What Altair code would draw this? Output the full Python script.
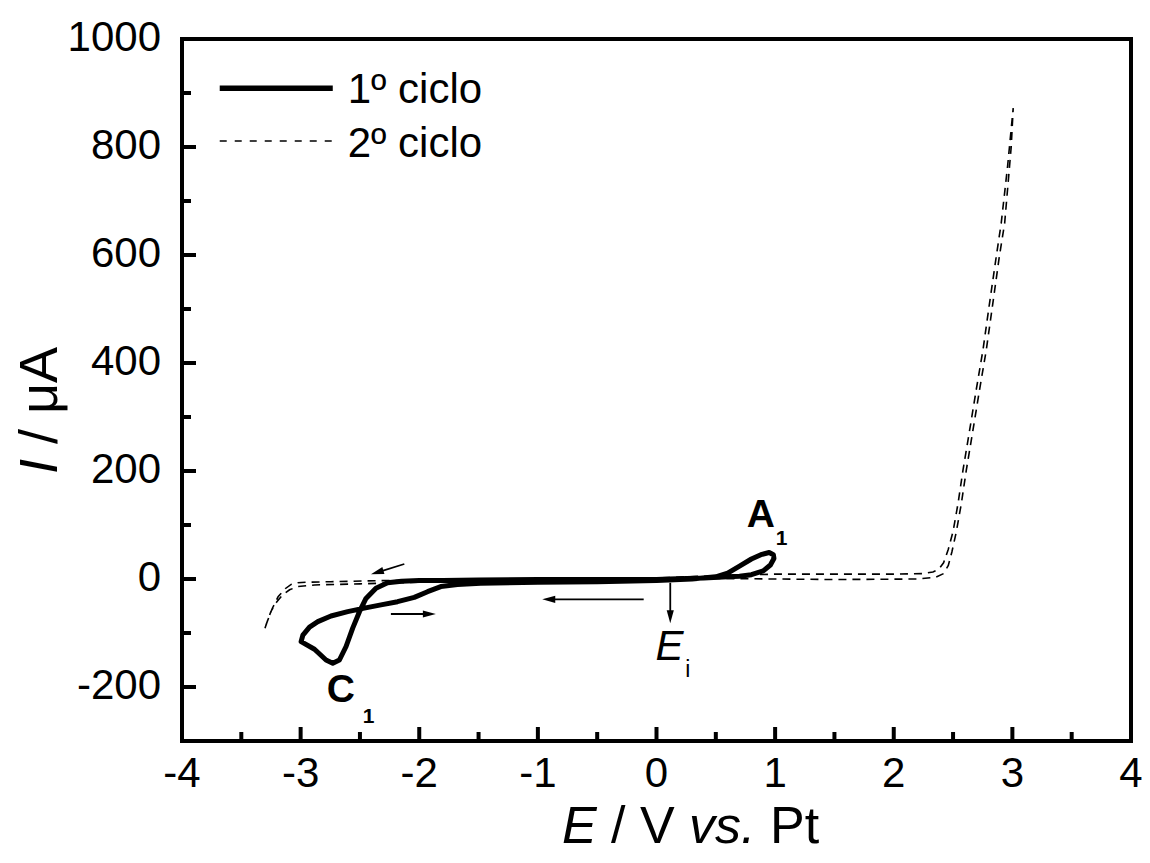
import altair as alt
import pandas as pd

FONT = "Liberation Sans"

# ---------------- data ----------------
cycle1_E = [0.11, 0.0, -0.5, -1.0, -1.5, -1.8, -2.0, -2.15, -2.267, -2.365, -2.449, -2.505,
            -2.561, -2.617, -2.673, -2.729, -2.786, -2.883, -2.996, -2.981, -2.925, -2.855,
            -2.744, -2.603, -2.463, -2.323, -2.183, -2.042, -1.93, -1.818, -1.678, -1.482,
            -1.0, -0.5, 0.0, 0.3, 0.5, 0.6, 0.7, 0.8, 0.88, 0.95, 0.985, 0.99, 0.96, 0.9,
            0.8, 0.7, 0.6, 0.4, 0.11]
cycle1_I = [0, -1, -1, -1, -2, -3, -3, -4, -7, -17, -36, -61,
            -91, -125, -150, -156, -150, -130, -116, -104, -89, -79,
            -68.5, -60.5, -54, -48, -42, -34, -23.5, -14, -10, -8,
            -6, -5, -3, 0, 4, 11, 24, 37, 45, 49, 45, 38, 26, 15,
            8, 5, 4, 2, 0]

cycle2_E = [0.11, -0.5, -1.0, -1.5, -2.0, -2.323, -2.744, -2.95, -3.024, -3.08, -3.13, -3.19,
            -3.24, -3.28, -3.304, -3.29, -3.25, -3.2, -3.15, -3.093, -3.024, -2.883, -2.5,
            -2.2, -1.8, -1.4, -1.0, -0.5, 0.0, 0.5, 1.0, 1.5, 2.0, 2.25, 2.33, 2.38, 2.42,
            2.46, 2.5, 2.542, 2.584, 2.64, 2.695, 2.752, 2.807, 2.864, 2.906, 2.96, 3.007,
            2.99, 2.935, 2.89, 2.835, 2.78, 2.723, 2.668, 2.612, 2.57, 2.528, 2.49, 2.46,
            2.42, 2.35, 2.2, 1.5, 1.0, 0.5, 0.11]
cycle2_I = [1, -1, -2, -3, -3, -3, -5, -6, -7, -10, -18, -33,
            -55, -78, -94, -84, -60, -42, -29, -20, -14, -11, -9,
            -7, -5, -3, -2, 0, 2, 6, 9, 9, 9, 10, 13, 18, 30,
            55, 88, 140, 202, 276, 350, 424, 510, 597, 659, 765, 872,
            800, 659, 597, 510, 424, 350, 276, 202, 140, 88, 50, 25,
            10, 3, 0, -1, 0, 1, 0]

series_names = ["1º ciclo", "2º ciclo"]

x_domain = [-4, 4]
y_domain = [-300, 1000]
x_major = [-4, -3, -2, -1, 0, 1, 2, 3, 4]
x_minor = [-3.5, -2.5, -1.5, -0.5, 0.5, 1.5, 2.5, 3.5]
y_major = [-200, 0, 200, 400, 600, 800, 1000]
y_minor = [-100, 100, 300, 500, 700, 900]
x_tick_labels = ["-4", "-3", "-2", "-1", "0", "1", "2", "3", "4"]
y_tick_labels = ["-200", "0", "200", "400", "600", "800", "1000"]

# legend (data coordinates)
legend_line_E = [-3.682, -2.729]
legend_line_I = [909, 811]
legend_text_E = [-2.603, -2.603]
legend_text_I = [881, 782]

# peak labels
peak_text = ["A", "C"]
peak_E = [0.879, -2.662]
peak_I = [96.9, -227]
peak_sub = ["1", "1"]
peak_sub_E = [1.055, -2.426]
peak_sub_I = [63, -267]
ei_text = ["E"]
ei_E = [0.109]
ei_I = [-150]
ei_sub = ["i"]
ei_sub_E = [0.265]
ei_sub_I = [-181]

# arrows: tail -> tip
arrow_E0 = [0.116, -0.108, -2.239, -2.126]
arrow_I0 = [-7, -37.6, -64.8, 27.8]
arrow_E1 = [0.116, -0.963, -1.860, -2.407]
arrow_I1 = [-82, -37.6, -64.8, 8.7]
arrow_angle = [180, 270, 90, 253]

# ---------------- layout ----------------
W, H = 949, 702
PX_X = W / (x_domain[1] - x_domain[0])
PX_Y = H / (y_domain[1] - y_domain[0])
HEAD = 11
LABEL_FS = 42

XS = alt.Scale(domain=x_domain, nice=False, zero=False)
YS = alt.Scale(domain=y_domain, nice=False, zero=False)

c1 = pd.DataFrame({"E": cycle1_E, "I": cycle1_I, "i": range(len(cycle1_E))})
c2 = pd.DataFrame({"E": cycle2_E, "I": cycle2_I, "i": range(len(cycle2_E))})

line1 = alt.Chart(c1).mark_line(
    color="black", strokeWidth=5, strokeJoin="round", strokeCap="round"
).encode(
    x=alt.X("E:Q", scale=XS, axis=None),
    y=alt.Y("I:Q", scale=YS, axis=None),
    order="i:Q",
)

line2 = alt.Chart(c2).mark_line(
    color="black", strokeWidth=1.6, strokeDash=[8, 6]
).encode(
    x=alt.X("E:Q", scale=XS, axis=None),
    y=alt.Y("I:Q", scale=YS, axis=None),
    order="i:Q",
)

# inward ticks
def xticks(vals, length):
    return alt.Chart(pd.DataFrame({"t": vals})).mark_rule(color="black", strokeWidth=4).encode(
        x=alt.X("t:Q", scale=XS, axis=None), y=alt.value(H), y2=alt.value(H - length))

def yticks(vals, length):
    return alt.Chart(pd.DataFrame({"t": vals})).mark_rule(color="black", strokeWidth=4).encode(
        y=alt.Y("t:Q", scale=YS, axis=None), x=alt.value(0), x2=alt.value(length))

ticks = [xticks(x_major, 14), xticks(x_minor, 9), yticks(y_major, 14), yticks(y_minor, 9)]

# tick labels
xlab = alt.Chart(pd.DataFrame({"t": x_major, "s": x_tick_labels})).mark_text(
    align="center", baseline="alphabetic", font=FONT, fontSize=LABEL_FS, color="black"
).encode(x=alt.X("t:Q", scale=XS, axis=None), y=alt.value(H + 46), text="s:N")
ylab = alt.Chart(pd.DataFrame({"t": y_major, "s": y_tick_labels})).mark_text(
    align="right", baseline="alphabetic", font=FONT, fontSize=LABEL_FS, color="black", dy=12
).encode(y=alt.Y("t:Q", scale=YS, axis=None), x=alt.value(-21), text="s:N")

# legend
leg = pd.DataFrame({"name": series_names, "x0": [legend_line_E[0]] * 2,
                    "x1": [legend_line_E[1]] * 2, "y": legend_line_I,
                    "tx": legend_text_E, "ty": legend_text_I})
leg_solid = alt.Chart(leg.iloc[[0]]).mark_rule(color="black", strokeWidth=5.5).encode(
    x=alt.X("x0:Q", scale=XS, axis=None), x2="x1:Q", y=alt.Y("y:Q", scale=YS, axis=None))
leg_dash = alt.Chart(leg.iloc[[1]]).mark_rule(color="black", strokeWidth=1.6,
                                              strokeDash=[7, 8]).encode(
    x=alt.X("x0:Q", scale=XS, axis=None), x2="x1:Q", y=alt.Y("y:Q", scale=YS, axis=None))
leg_text = alt.Chart(leg).mark_text(
    align="left", baseline="alphabetic", font=FONT, fontSize=LABEL_FS, color="black"
).encode(x=alt.X("tx:Q", scale=XS, axis=None), y=alt.Y("ty:Q", scale=YS, axis=None),
         text="name:N")

# annotations
def ann(texts, xs, ys, size, weight="normal", style="normal"):
    df = pd.DataFrame({"t": texts, "x": xs, "y": ys})
    return alt.Chart(df).mark_text(
        align="center", baseline="alphabetic", font=FONT, fontSize=size,
        fontWeight=weight, fontStyle=style, color="black"
    ).encode(x=alt.X("x:Q", scale=XS, axis=None), y=alt.Y("y:Q", scale=YS, axis=None),
             text="t:N")

anns = [
    ann(peak_text, peak_E, peak_I, 39, weight="bold"),
    ann(peak_sub, peak_sub_E, peak_sub_I, 21, weight="bold"),
    ann(ei_text, ei_E, ei_I, 42, style="italic"),
    ann(ei_sub, ei_sub_E, ei_sub_I, 23),
]

# arrows
ends_E, ends_I = [], []
for e0, i0, e1, i1 in zip(arrow_E0, arrow_I0, arrow_E1, arrow_I1):
    dx = (e1 - e0) * PX_X
    dy = (i1 - i0) * PX_Y
    L = (dx ** 2 + dy ** 2) ** 0.5
    ends_E.append(e1 - dx / L * HEAD / PX_X)
    ends_I.append(i1 - dy / L * HEAD / PX_Y)
arr = pd.DataFrame({"e0": arrow_E0, "i0": arrow_I0, "e1": arrow_E1, "i1": arrow_I1,
                    "ee": ends_E, "ie": ends_I, "ang": arrow_angle})
arrow_shaft = alt.Chart(arr).mark_rule(color="black", strokeWidth=1.8).encode(
    x=alt.X("e0:Q", scale=XS, axis=None), y=alt.Y("i0:Q", scale=YS, axis=None),
    x2="ee:Q", y2="ie:Q")
arrow_head = alt.Chart(arr).mark_point(
    shape="M0,0L-0.55,2L0.55,2Z", filled=True, color="black", opacity=1, size=169,
    strokeWidth=0
).encode(x=alt.X("e1:Q", scale=XS, axis=None), y=alt.Y("i1:Q", scale=YS, axis=None),
         angle=alt.Angle("ang:Q", scale=None))

# axis titles with mixed italic
one = pd.DataFrame({"k": [0]})
def ptext(text, x, y, size=52, style="normal", angle=0):
    return alt.Chart(one).mark_text(
        text=text, align="left", baseline="alphabetic", font=FONT, fontSize=size,
        fontStyle=style, color="black", angle=angle
    ).encode(x=alt.value(x), y=alt.value(y))

TY = 804
titles = [
    ptext("E", 380, TY, style="italic"),
    ptext("/ V", 429, TY),
    ptext("vs.", 507, TY, style="italic"),
    ptext("Pt", 588, TY),
    ptext("I", -125, 435, size=54, style="italic", angle=270),
    ptext("/ \u03bcA", -125, 405, size=54, angle=270),
]

chart = alt.layer(
    line1, line2, *ticks, xlab, ylab, leg_solid, leg_dash, leg_text, *anns,
    arrow_shaft, arrow_head, *titles
).properties(
    width=W, height=H,
    autosize=alt.AutoSizeParams(type="none"),
    padding={"left": 174, "top": 31, "right": 11, "bottom": 114},
).configure_view(
    stroke="black", strokeWidth=4
)

chart.save("out.html", embed_options={"renderer": "svg", "actions": False})
